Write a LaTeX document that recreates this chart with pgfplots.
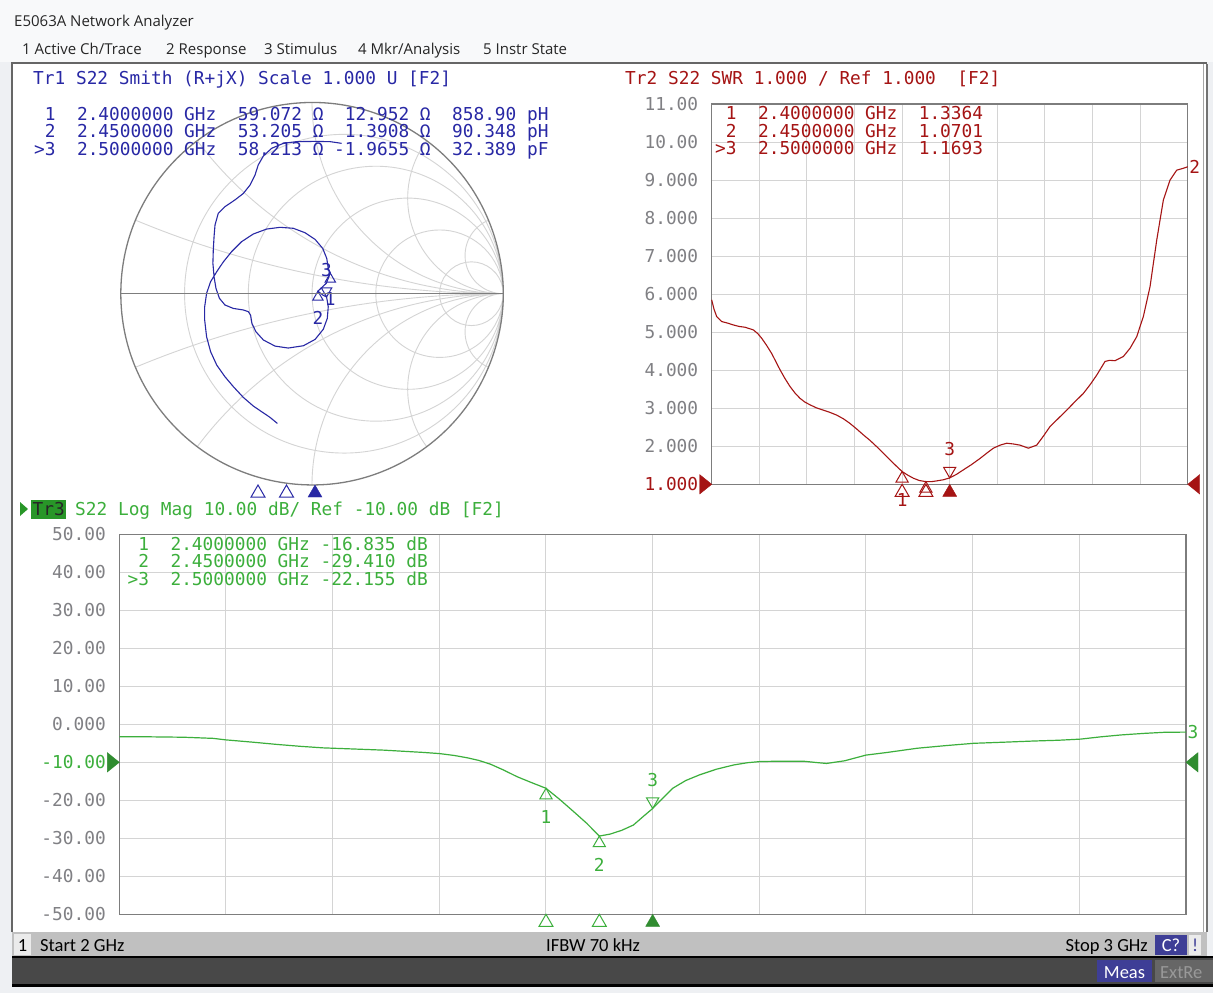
\documentclass[border=0pt]{standalone}
\usepackage{fontspec}
\usepackage{pgfplots}
\pgfplotsset{compat=1.18}
\usepgfplotslibrary{smithchart}
\newfontfamily\mono{DejaVu Sans Mono}
\newfontfamily\uifont{Open Sans}
\newfontfamily\sbfont{Carlito}
\newcommand\mt{\mono\fontsize{17.8}{20}\selectfont}
\newcommand\uif{\uifont\fontsize{15}{17}\selectfont}
\newcommand\sbf{\sbfont\fontsize{18.5}{20}\selectfont}

\definecolor{smithblue}{RGB}{40,40,165}
\definecolor{swrred}{RGB}{165,20,20}
\definecolor{lmgreen}{RGB}{60,175,60}
\definecolor{gridc}{RGB}{212,212,212}
\definecolor{framec}{RGB}{125,125,125}
\definecolor{tickc}{RGB}{128,128,132}
\definecolor{pagebg}{RGB}{238,240,243}
\definecolor{topbg}{RGB}{248,249,250}
\definecolor{statusc}{RGB}{192,192,192}
\definecolor{darkbar}{RGB}{72,72,72}
\definecolor{measc}{RGB}{62,62,150}
\definecolor{tr3box}{RGB}{40,150,40}

\pgfplotsset{
  vna/.style={scale only axis, enlargelimits=false, clip=false,
    axis line style={framec, line width=1.3pt},
    grid=major, major grid style={gridc, line width=1pt},
    major tick length=0pt,
    xmin=2, xmax=3, xtick distance=0.1, xticklabel={\relax},
    yticklabel style={font=\mt, text=tickc, xshift=-10pt}},
  mk/.style={only marks, mark size=7pt},
}

\begin{document}
\begin{tikzpicture}[x=1pt,y=-1pt]
\path[use as bounding box] (0,0) rectangle (1213,993);
\fill[pagebg] (0,0) rectangle (1213,993);
\fill[topbg] (0,0) rectangle (1213,62);
\node[anchor=base west, font=\uif, text=black!85, inner sep=0pt] at (14,26) {E5063A Network Analyzer};
\node[anchor=base west, font=\uif, text=black!85, inner sep=0pt] at (22,54) {1 Active Ch/Trace};
\node[anchor=base west, font=\uif, text=black!85, inner sep=0pt] at (166,54) {2 Response};
\node[anchor=base west, font=\uif, text=black!85, inner sep=0pt] at (264,54) {3 Stimulus};
\node[anchor=base west, font=\uif, text=black!85, inner sep=0pt] at (358,54) {4 Mkr/Analysis};
\node[anchor=base west, font=\uif, text=black!85, inner sep=0pt] at (483,54) {5 Instr State};

% main panel
\fill[white] (12,63) rectangle (1207,932);
\draw[black!60, line width=2pt] (12,932) -- (12,63) -- (1207,63);
\draw[black!35, line width=1pt] (1203,64) -- (1203,932);
\draw[black!55, line width=1.5pt] (1207,64) -- (1207,932);

% status bar
\fill[statusc] (12,932) rectangle (1207,957);
\fill[black!8] (14,934) rectangle (31,955);
\node[anchor=base, font=\sbf] at (22.5,951) {1};
\node[anchor=base west, font=\sbf, inner sep=0pt] at (40,951) {Start 2 GHz};
\node[anchor=base west, font=\sbf, inner sep=0pt] at (546,951) {IFBW 70 kHz};
\node[anchor=base east, font=\sbf, inner sep=0pt] at (1148,951) {Stop 3 GHz};
\fill[measc] (1155,935) rectangle (1187,955);
\node[anchor=base, font=\sbf, text=white] at (1171,951) {C?};
\fill[black!8] (1189,935) rectangle (1201,955);
\node[anchor=base, font=\sbf, text=measc] at (1195,951) {!};
\fill[darkbar] (12,957) rectangle (1213,985);
\draw[black, line width=2pt] (12,957) -- (1213,957);
\draw[black, line width=3pt] (12,985) -- (1213,985);
\fill[measc] (1097,960) rectangle (1152,982);
\node[anchor=base, font=\sbf, text=white] at (1124.5,978) {Meas};
\fill[black!60] (1155,960) rectangle (1213,982);
\node[anchor=base west, font=\sbf, text=black!40, inner sep=0pt] at (1160,978) {ExtRe};

\begin{scope}[x=1cm,y=1cm]
% ---------- Smith chart (Tr1)
\begin{smithchart}[at={(312pt,-293.7pt)}, anchor=center, scale only axis, width=382.6pt,
    xtick={0.2,0.5,1,2,5}, ytick={-5,-2,-1,-0.5,-0.2,0.2,0.5,1,2,5},
    xticklabel={\relax}, yticklabel={\relax},
    grid=major, major grid style={gridc, line width=0.9pt},
    axis line style={framec, line width=1.3pt},
    major tick length=0pt, clip=false]
\addplot[smithblue, line width=1.1pt, is smithchart cs] coordinates {
(-0.181,-0.678)(-0.220,-0.646)(-0.263,-0.617)(-0.307,-0.587)(-0.359,-0.542)(-0.411,-0.486)
(-0.455,-0.434)(-0.498,-0.373)(-0.530,-0.303)(-0.551,-0.225)(-0.561,-0.138)(-0.561,-0.068)
(-0.551,0.002)(-0.530,0.063)(-0.498,0.115)(-0.463,0.167)(-0.420,0.220)(-0.368,0.272)
(-0.307,0.312)(-0.237,0.338)(-0.167,0.347)(-0.098,0.342)(-0.037,0.319)(0.016,0.284)
(0.056,0.237)(0.077,0.185)(0.085,0.132)(0.0957,0.1074)(0.075,0.055)(0.031,0.0131)
(0.058,-0.008)(0.0762,-0.0168)(0.085,-0.068)(0.080,-0.129)(0.059,-0.186)(0.016,-0.239)
(-0.045,-0.272)(-0.124,-0.284)(-0.193,-0.274)(-0.254,-0.242)(-0.293,-0.199)(-0.314,-0.155)
(-0.321,-0.112)(-0.333,-0.094)(-0.359,-0.085)(-0.411,-0.077)(-0.455,-0.059)(-0.484,-0.024)
(-0.502,0.028)(-0.512,0.089)(-0.518,0.159)(-0.516,0.228)(-0.512,0.298)(-0.507,0.359)
(-0.490,0.420)(-0.455,0.455)(-0.403,0.490)(-0.359,0.524)(-0.324,0.568)(-0.298,0.620)
(-0.281,0.673)(-0.254,0.720)(-0.211,0.760)(-0.150,0.786)(-0.080,0.795)(0.007,0.796)
(0.094,0.795)(0.155,0.786)};
\addplot[mk, smithblue, mark=triangle, mark size=6pt, mark options={yshift=-6pt, line width=1pt},
  nodes near coords={1}, every node near coord/.style={anchor=north, yshift=-10pt, font=\mt, text=smithblue},
  is smithchart cs] coordinates {(0.0957,0.1074)};
\addplot[mk, smithblue, mark=triangle, mark size=6pt, mark options={yshift=-6pt, line width=1pt},
  nodes near coords={2}, every node near coord/.style={anchor=north, yshift=-10pt, font=\mt, text=smithblue},
  is smithchart cs] coordinates {(0.031,0.0131)};
\addplot[mk, smithblue, mark=triangle, mark size=6pt, mark options={yshift=6pt, rotate=180, line width=1pt},
  nodes near coords={3}, every node near coord/.style={anchor=south, yshift=10pt, font=\mt, text=smithblue},
  is smithchart cs] coordinates {(0.0762,-0.0168)};
\end{smithchart}

% stimulus markers under the Smith chart
\begin{axis}[at={(30pt,-485pt)}, anchor=south west, scale only axis, width=570pt, height=10pt,
    hide axis, xmin=2, xmax=3, ymin=0, ymax=1, clip=false]
\addplot[only marks, smithblue, mark=triangle, mark size=8pt, mark options={yshift=-8pt, line width=1pt}]
  coordinates {(2.4,0)(2.45,0)};
\addplot[only marks, smithblue, mark=triangle*, mark size=8pt, mark options={yshift=-8pt}]
  coordinates {(2.5,0)};
\end{axis}

% ---------- SWR (Tr2)
\begin{axis}[vna, at={(711.7pt,-484.3pt)}, anchor=south west, width=476pt, height=380.3pt,
    ymin=1, ymax=11, ytick={1,...,11},
    yticklabels={\textcolor{swrred}{1.000},2.000,3.000,4.000,5.000,6.000,7.000,8.000,9.000,10.00,11.00}]
\addplot[swrred, line width=1.1pt] coordinates {
(2.000,5.85)(2.005,5.60)(2.0105,5.41)(2.021,5.28)(2.033,5.24)(2.0455,5.19)(2.058,5.15)(2.070,5.13)
(2.0875,5.06)(2.097,4.96)(2.105,4.84)(2.115,4.66)(2.126,4.44)(2.135,4.22)(2.1436,4.01)(2.154,3.78)
(2.1646,3.57)(2.175,3.40)(2.1856,3.26)(2.196,3.16)(2.2066,3.09)(2.220,3.01)(2.2346,2.95)(2.2486,2.89)
(2.2626,2.82)(2.277,2.72)(2.2906,2.60)(2.305,2.45)(2.3186,2.30)(2.333,2.15)(2.3466,1.99)(2.361,1.81)
(2.3746,1.64)(2.387,1.49)(2.4,1.3364)(2.412,1.24)(2.4237,1.16)(2.436,1.10)(2.45,1.0701)(2.462,1.07)
(2.4727,1.09)(2.487,1.12)(2.5,1.1693)(2.514,1.26)(2.5287,1.38)(2.546,1.52)(2.5637,1.68)(2.578,1.82)
(2.5917,1.95)(2.606,2.03)(2.6197,2.08)(2.634,2.06)(2.6477,2.03)(2.6653,1.95)(2.6828,2.03)(2.697,2.27)
(2.7108,2.52)(2.728,2.73)(2.7458,2.95)(2.763,3.17)(2.7808,3.39)(2.795,3.62)(2.8088,3.87)(2.8263,4.23)
(2.836,4.26)(2.8473,4.25)(2.8648,4.36)(2.879,4.58)(2.8928,4.88)(2.9068,5.41)(2.9209,6.20)(2.9349,7.42)
(2.9489,8.48)(2.9629,9.00)(2.9769,9.26)(2.9909,9.31)(3.0,9.35)}
  node[pos=1, anchor=west, font=\mt, text=swrred, inner sep=1pt] {2};
\addplot[mk, swrred, mark=triangle, mark options={yshift=-7pt, line width=1pt},
  nodes near coords={1}, every node near coord/.style={anchor=north, yshift=-11pt, font=\mt, text=swrred}]
  coordinates {(2.4,1.3364)};
\addplot[mk, swrred, mark=triangle, mark options={yshift=-7pt, line width=1pt}] coordinates {(2.45,1.0701)};
\addplot[mk, swrred, mark=triangle, mark options={yshift=7pt, rotate=180, line width=1pt},
  nodes near coords={3}, every node near coord/.style={anchor=south, yshift=11pt, font=\mt, text=swrred}]
  coordinates {(2.5,1.1693)};
\addplot[only marks, swrred, mark=triangle, mark size=8pt, mark options={yshift=-8pt, line width=1pt}]
  coordinates {(2.4,1)(2.45,1)};
\addplot[only marks, swrred, mark=triangle*, mark size=8pt, mark options={yshift=-8pt}] coordinates {(2.5,1)};
\addplot[only marks, swrred, mark=triangle*, mark size=8pt, mark options={xshift=-8pt, rotate=-90, xscale=1.4}] coordinates {(2,1)};
\addplot[only marks, swrred, mark=triangle*, mark size=8pt, mark options={xshift=8pt, rotate=90, xscale=1.4}] coordinates {(3,1)};
\end{axis}

% ---------- Log Mag (Tr3)
\begin{axis}[vna, at={(119.3pt,-914.3pt)}, anchor=south west, width=1066.7pt, height=380pt,
    ymin=-50, ymax=50, ytick={-50,-40,...,50},
    yticklabels={-50.00,-40.00,-30.00,-20.00,\textcolor{lmgreen}{-10.00},0.000,10.00,20.00,30.00,40.00,50.00}]
\addplot[lmgreen, line width=1.2pt] coordinates {
(2.0,-3.25)(2.03,-3.3)(2.06,-3.4)(2.088,-3.7)(2.1,-4.1)(2.125,-4.7)(2.148,-5.3)(2.17,-5.8)
(2.191,-6.2)(2.22,-6.5)(2.248,-6.8)(2.285,-7.4)(2.3,-7.7)(2.314,-8.2)(2.326,-8.8)(2.337,-9.5)
(2.348,-10.5)(2.36,-12.0)(2.373,-13.8)(2.387,-15.4)(2.4,-16.835)(2.413,-19.8)(2.426,-23.0)
(2.438,-26.0)(2.45,-29.41)(2.46,-28.9)(2.471,-27.9)(2.482,-26.5)(2.491,-24.3)(2.5,-22.155)
(2.51,-19.3)(2.519,-16.8)(2.531,-14.8)(2.544,-13.3)(2.56,-11.8)(2.576,-10.7)(2.589,-10.1)
(2.601,-9.8)(2.62,-9.7)(2.641,-9.7)(2.655,-10.1)(2.663,-10.3)(2.68,-9.6)(2.70,-8.1)(2.72,-7.4)
(2.748,-6.3)(2.775,-5.6)(2.801,-5.0)(2.83,-4.7)(2.857,-4.4)(2.88,-4.2)(2.901,-3.9)(2.92,-3.3)
(2.939,-2.8)(2.96,-2.4)(2.98,-2.1)(3.0,-2.05)}
  node[pos=1, anchor=west, font=\mt, text=lmgreen, inner sep=1pt] {3};
\addplot[mk, lmgreen, mark=triangle, mark options={yshift=-7pt, line width=1pt},
  nodes near coords={1}, every node near coord/.style={anchor=north, yshift=-11pt, font=\mt, text=lmgreen}]
  coordinates {(2.4,-16.835)};
\addplot[mk, lmgreen, mark=triangle, mark options={yshift=-7pt, line width=1pt},
  nodes near coords={2}, every node near coord/.style={anchor=north, yshift=-11pt, font=\mt, text=lmgreen}]
  coordinates {(2.45,-29.41)};
\addplot[mk, lmgreen, mark=triangle, mark options={yshift=7pt, rotate=180, line width=1pt},
  nodes near coords={3}, every node near coord/.style={anchor=south, yshift=11pt, font=\mt, text=lmgreen}]
  coordinates {(2.5,-22.155)};
\addplot[only marks, lmgreen, mark=triangle, mark size=8pt, mark options={yshift=-8pt, line width=1pt}]
  coordinates {(2.4,-50)(2.45,-50)};
\addplot[only marks, lmgreen!80!black, mark=triangle*, mark size=8pt, mark options={yshift=-8pt}] coordinates {(2.5,-50)};
\addplot[only marks, lmgreen!80!black, mark=triangle*, mark size=8pt, mark options={xshift=-8pt, rotate=-90, xscale=1.4}] coordinates {(2,-10)};
\addplot[only marks, lmgreen!80!black, mark=triangle*, mark size=8pt, mark options={xshift=8pt, rotate=90, xscale=1.4}] coordinates {(3,-10)};
\end{axis}
\end{scope}

\draw[framec, line width=1.2pt] (120.7,293.7) -- (503.3,293.7);
\node[anchor=base west, font=\mt, text=smithblue, inner sep=0pt] at (33,84) {Tr1 S22 Smith (R+jX) Scale 1.000 U [F2]};
\node[anchor=base west, font=\mt, text=smithblue, inner sep=0pt] at (34,120) {~1~~2.4000000 GHz~~59.072 Ω~~12.952 Ω~~858.90 pH};
\node[anchor=base west, font=\mt, text=smithblue, inner sep=0pt] at (34,137.5) {~2~~2.4500000 GHz~~53.205 Ω~~1.3908 Ω~~90.348 pH};
\node[anchor=base west, font=\mt, text=smithblue, inner sep=0pt] at (34,155) {>3~~2.5000000 GHz~~58.213 Ω -1.9655 Ω~~32.389 pF};
\node[anchor=base west, font=\mt, text=swrred, inner sep=0pt] at (625,84) {Tr2 S22 SWR 1.000 / Ref 1.000~~[F2]};
\node[anchor=base west, font=\mt, text=swrred, inner sep=0pt] at (715,119.5) {~1~~2.4000000 GHz~~1.3364};
\node[anchor=base west, font=\mt, text=swrred, inner sep=0pt] at (715,137) {~2~~2.4500000 GHz~~1.0701};
\node[anchor=base west, font=\mt, text=swrred, inner sep=0pt] at (715,154.5) {>3~~2.5000000 GHz~~1.1693};
\fill[tr3box] (20,502) -- (28,509) -- (20,516) -- cycle;
\fill[tr3box] (31,500) rectangle (66,519);
\node[anchor=base west, font=\mt, text=black!85, inner sep=0pt] at (32.5,515) {Tr3};
\node[anchor=base west, font=\mt, text=lmgreen, inner sep=0pt] at (75,515) {S22 Log Mag 10.00 dB/ Ref -10.00 dB [F2]};
\node[anchor=base west, font=\mt, text=lmgreen, inner sep=0pt] at (127.5,550.5) {~1~~2.4000000 GHz -16.835 dB};
\node[anchor=base west, font=\mt, text=lmgreen, inner sep=0pt] at (127.5,567.8) {~2~~2.4500000 GHz -29.410 dB};
\node[anchor=base west, font=\mt, text=lmgreen, inner sep=0pt] at (127.5,585) {>3~~2.5000000 GHz -22.155 dB};
\end{tikzpicture}
\end{document}
